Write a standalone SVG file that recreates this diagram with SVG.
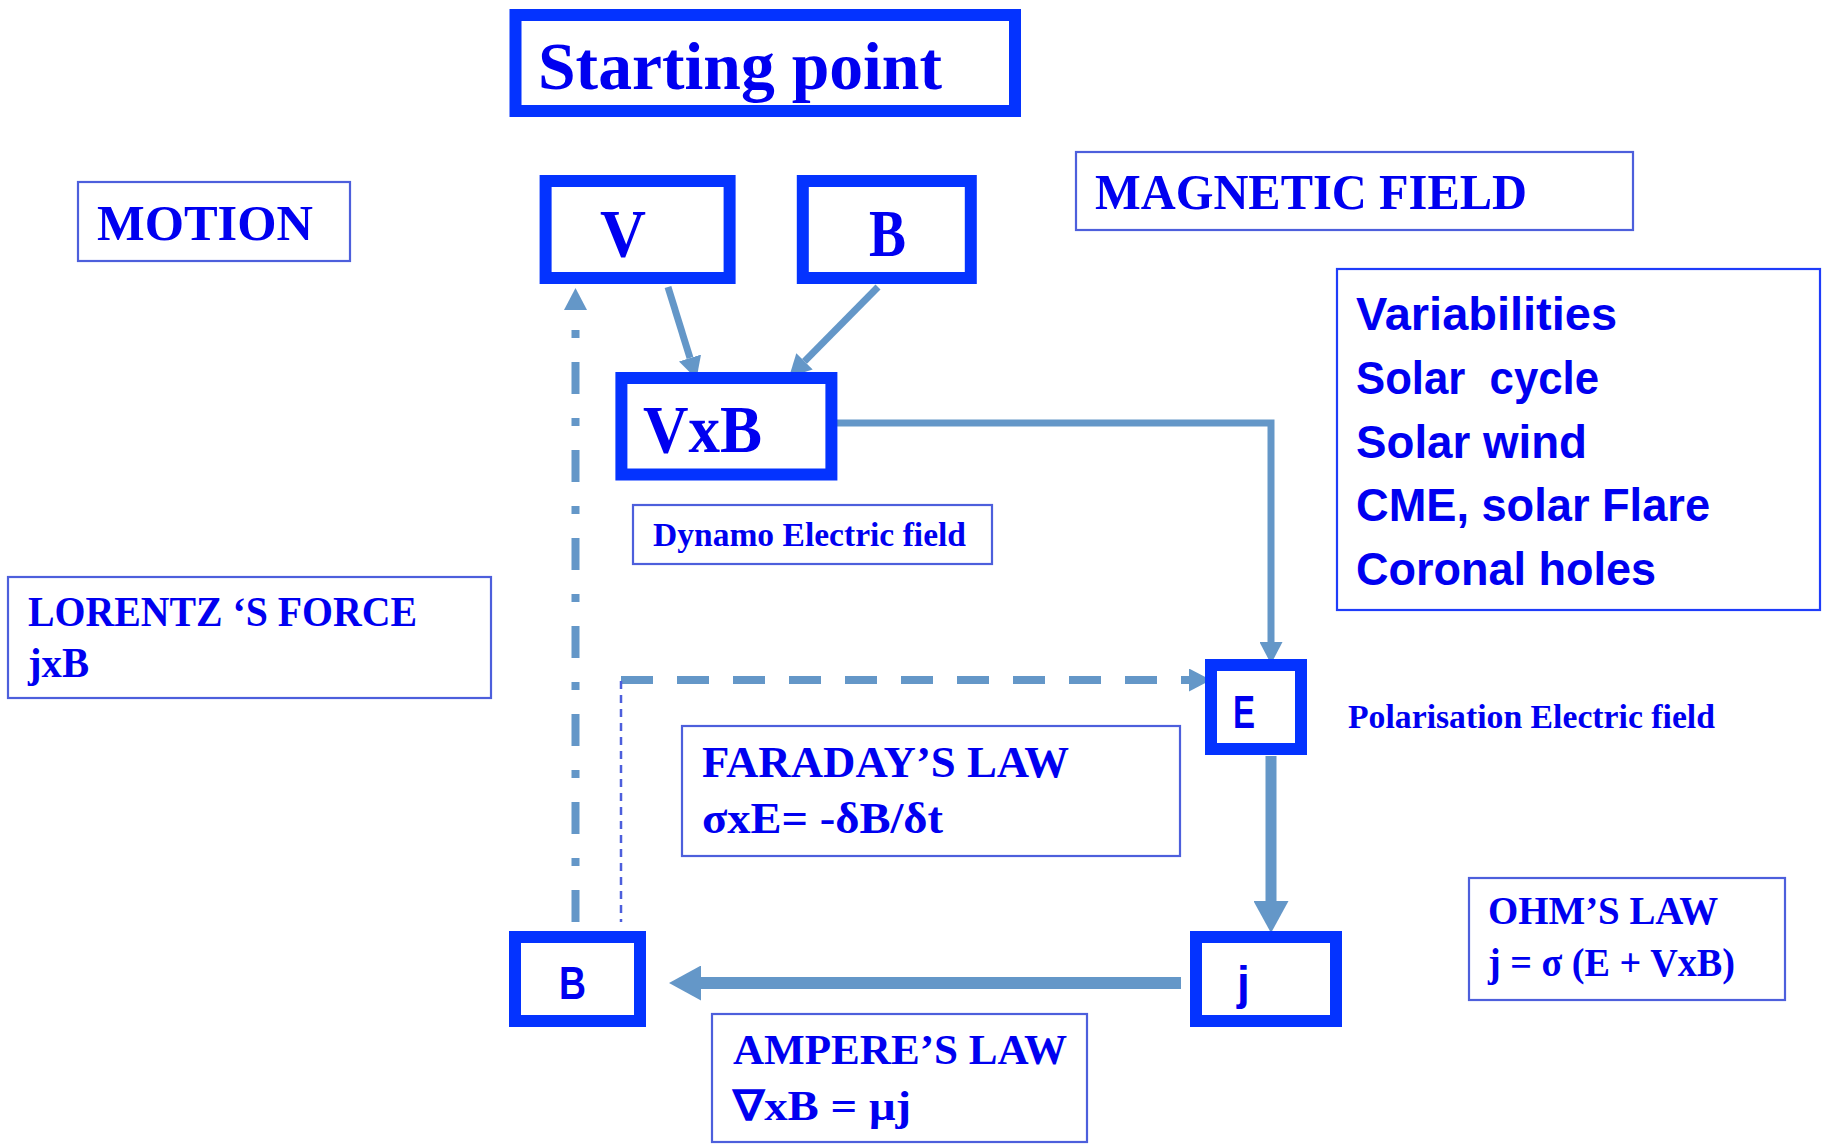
<svg xmlns="http://www.w3.org/2000/svg" width="1828" height="1144" viewBox="0 0 1828 1144">
<defs>
<style>
.bg{fill:#ffffff}
.thick{fill:#ffffff;stroke:#0433ff;stroke-width:12}
.thin{fill:#ffffff;stroke:#4d5fdc;stroke-width:2.2}
.thinb{fill:#ffffff;stroke:#1f3dfa;stroke-width:2.2}
.serif{font-family:"Liberation Serif","Times New Roman",serif;font-weight:bold;fill:#0000f0}
.sans{font-family:"Liberation Sans",Arial,sans-serif;font-weight:bold;fill:#0000f0}
.conn{fill:none;stroke:#6497c8}
</style>
<marker id="ahs" markerUnits="userSpaceOnUse" viewBox="0 0 22 23" markerWidth="22" markerHeight="23" refX="0" refY="11.5" orient="auto">
<path d="M0,0 L22,11.5 L0,23 z" fill="#6497c8"/>
</marker>
<marker id="ahl" markerUnits="userSpaceOnUse" viewBox="0 0 32 35" markerWidth="32" markerHeight="35" refX="0" refY="17.5" orient="auto">
<path d="M0,0 L32,17.5 L0,35 z" fill="#6497c8"/>
</marker>
</defs>
<rect class="bg" x="0" y="0" width="1828" height="1144"/>

<g id="connectors">
<line class="conn" x1="668" y1="287" x2="690" y2="358" stroke-width="7" marker-end="url(#ahs)"/>
<line class="conn" x1="878" y1="287" x2="804.5" y2="361.4" stroke-width="7" marker-end="url(#ahs)"/>
<polyline class="conn" points="833,423 1271,423 1271,642" stroke-width="7" marker-end="url(#ahs)"/>
<line class="conn" x1="1271" y1="756" x2="1271" y2="901" stroke-width="11" marker-end="url(#ahl)"/>
<line class="conn" x1="1181" y1="983" x2="701" y2="983" stroke-width="12" marker-end="url(#ahl)"/>
<line class="conn" x1="575.5" y1="922" x2="575.5" y2="310" stroke-width="8" stroke-dasharray="32 24 8 24" marker-end="url(#ahs)"/>
<line class="conn" x1="621" y1="680" x2="1189" y2="680" stroke-width="8" stroke-dasharray="32 24" marker-end="url(#ahs)"/>
<line x1="621" y1="676" x2="621" y2="922" stroke="#4d5fdc" stroke-width="2.5" stroke-dasharray="8 6" stroke-dashoffset="-5"/>
</g>

<g id="starting-point">
<rect class="thick" x="515.5" y="15" width="499.5" height="96"/>
<text class="serif" x="538" y="89" font-size="67" textLength="404" lengthAdjust="spacingAndGlyphs">Starting point</text>
</g>
<g id="motion">
<rect class="thin" x="78" y="182" width="272" height="79"/>
<text class="serif" x="97" y="240" font-size="51" textLength="216" lengthAdjust="spacingAndGlyphs">MOTION</text>
</g>
<g id="v">
<rect class="thick" x="545.6" y="181" width="184" height="97"/>
<text class="serif" x="600" y="256" font-size="67" textLength="46" lengthAdjust="spacingAndGlyphs">V</text>
</g>
<g id="b-top">
<rect class="thick" x="802.8" y="181" width="168" height="97"/>
<text class="serif" x="869" y="256" font-size="67" textLength="37" lengthAdjust="spacingAndGlyphs">B</text>
</g>
<g id="magnetic-field">
<rect class="thin" x="1076" y="152" width="557" height="78"/>
<text class="serif" x="1095" y="209" font-size="50" textLength="432" lengthAdjust="spacingAndGlyphs">MAGNETIC FIELD</text>
</g>
<g id="variabilities">
<rect class="thinb" x="1337" y="269" width="483" height="341"/>
<text class="sans" font-size="46" xml:space="preserve"><tspan x="1356" y="330" textLength="261" lengthAdjust="spacingAndGlyphs">Variabilities</tspan><tspan x="1356" y="394" textLength="243" lengthAdjust="spacingAndGlyphs">Solar  cycle</tspan><tspan x="1356" y="458" textLength="231" lengthAdjust="spacingAndGlyphs">Solar wind</tspan><tspan x="1356" y="521" textLength="354" lengthAdjust="spacingAndGlyphs">CME, solar Flare</tspan><tspan x="1356" y="585" textLength="300" lengthAdjust="spacingAndGlyphs">Coronal holes</tspan></text>
</g>
<g id="vxb">
<rect class="thick" x="621.4" y="378" width="210" height="96.5" stroke-width="15.5"/>
<text class="serif" x="643" y="452" font-size="68" textLength="119" lengthAdjust="spacingAndGlyphs">VxB</text>
</g>
<g id="dynamo">
<rect class="thin" x="633" y="505" width="359" height="59"/>
<text class="serif" x="653" y="546" font-size="33.5" textLength="313" lengthAdjust="spacingAndGlyphs">Dynamo Electric field</text>
</g>
<g id="lorentz">
<rect class="thin" x="8" y="577" width="483" height="121"/>
<text class="serif" font-size="42"><tspan x="28" y="626" textLength="389" lengthAdjust="spacingAndGlyphs">LORENTZ ‘S FORCE</tspan><tspan x="28" y="677" textLength="61" lengthAdjust="spacingAndGlyphs">jxB</tspan></text>
</g>
<g id="e">
<rect class="thick" x="1211" y="665" width="90" height="84"/>
<text class="sans" x="1233" y="728" font-size="46" textLength="22" lengthAdjust="spacingAndGlyphs">E</text>
</g>
<g id="polarisation">
<text class="serif" x="1348" y="728" font-size="33.5" textLength="367" lengthAdjust="spacingAndGlyphs">Polarisation Electric field</text>
</g>
<g id="faraday">
<rect class="thin" x="682" y="726" width="498" height="130"/>
<text class="serif" font-size="44"><tspan x="702" y="777" textLength="367" lengthAdjust="spacingAndGlyphs">FARADAY’S LAW</tspan><tspan x="702" y="833" textLength="241" lengthAdjust="spacingAndGlyphs">σxE= -δB/δt</tspan></text>
</g>
<g id="ohm">
<rect class="thin" x="1469" y="878" width="316" height="122"/>
<text class="serif" font-size="39"><tspan x="1488" y="924" textLength="230" lengthAdjust="spacingAndGlyphs">OHM’S LAW</tspan><tspan x="1488" y="976" textLength="247" lengthAdjust="spacingAndGlyphs">j = σ (E + VxB)</tspan></text>
</g>
<g id="b-bottom">
<rect class="thick" x="515" y="937" width="125" height="84"/>
<text class="sans" x="559" y="999" font-size="46" textLength="27" lengthAdjust="spacingAndGlyphs">B</text>
</g>
<g id="j">
<rect class="thick" x="1196" y="937" width="140" height="84"/>
<text class="sans" x="1237" y="999" font-size="46">j</text>
</g>
<g id="ampere">
<rect class="thin" x="712" y="1014" width="375" height="128"/>
<text class="serif" font-size="42"><tspan x="733" y="1064" textLength="334" lengthAdjust="spacingAndGlyphs">AMPERE’S LAW</tspan><tspan x="733" y="1120" textLength="178" lengthAdjust="spacingAndGlyphs">∇xB = μj</tspan></text>
</g>
</svg>
